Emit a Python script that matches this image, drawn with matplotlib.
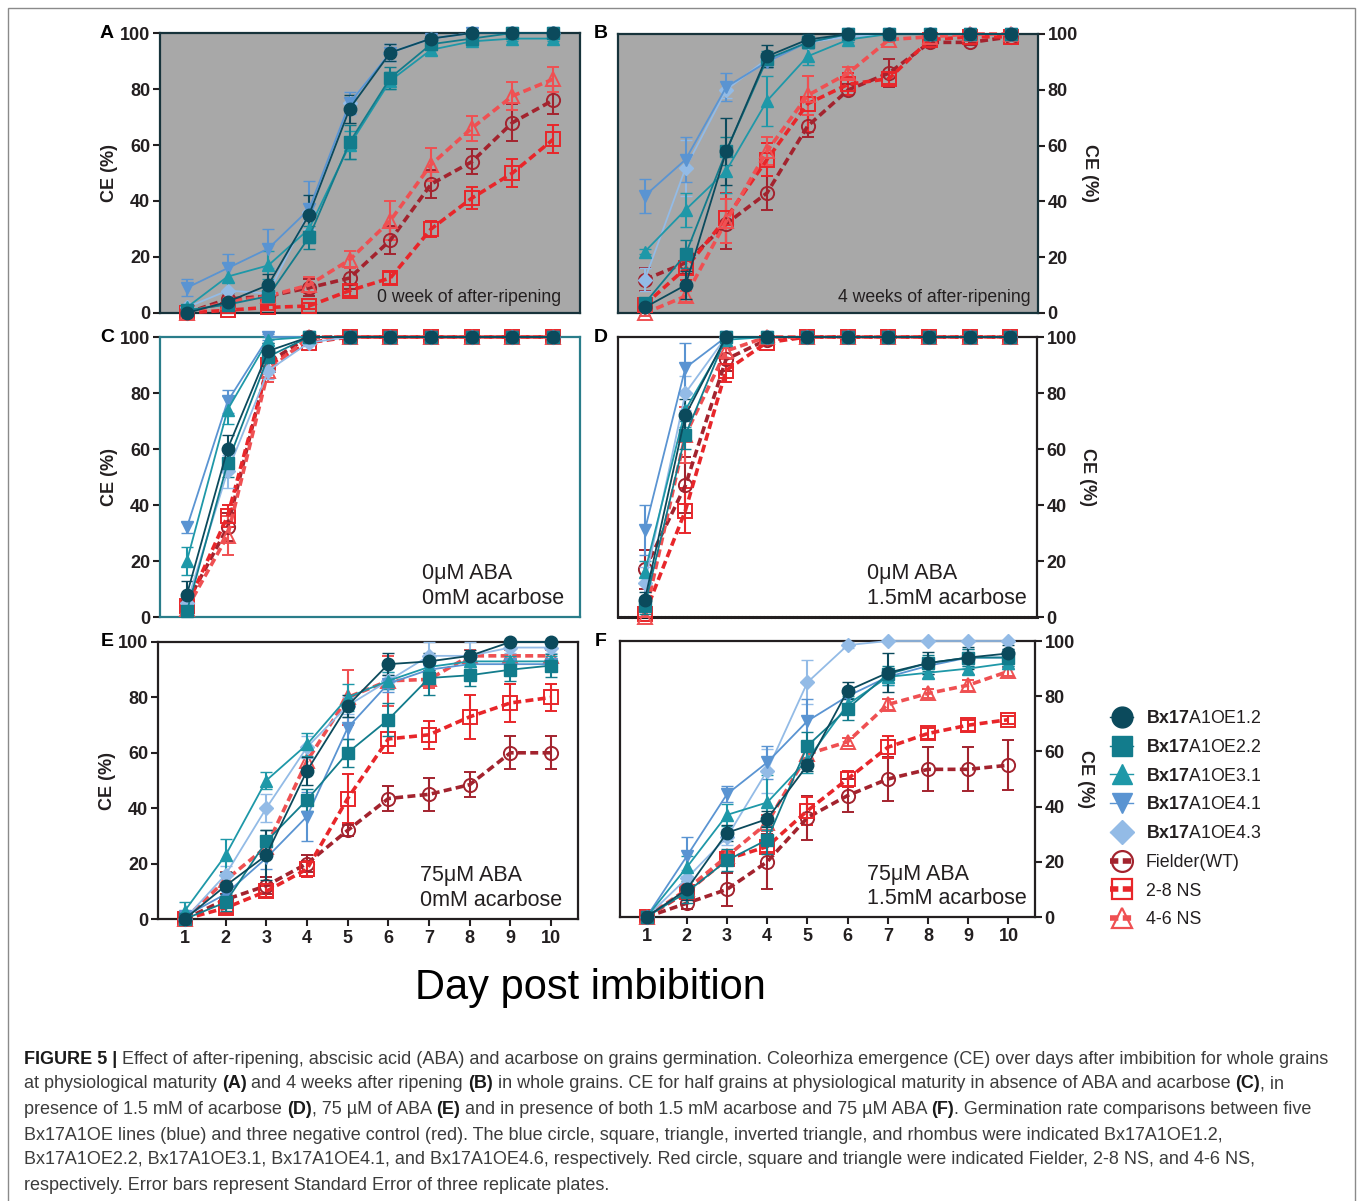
import matplotlib
matplotlib.use("Agg")
import matplotlib.pyplot as plt
from matplotlib.lines import Line2D
from matplotlib.patches import Rectangle

plt.rcParams['font.family'] = ['Liberation Sans', 'DejaVu Sans']
plt.rcParams['mathtext.fontset'] = 'custom'
plt.rcParams['mathtext.rm'] = 'Liberation Sans'
plt.rcParams['mathtext.bf'] = 'Liberation Sans:bold'

W, H = 1358, 1201
INK = '#231f20'

# x values and series
days = [1, 2, 3, 4, 5, 6, 7, 8, 9, 10]
series_labels = [r'$\mathbf{Bx17}$A1OE1.2', r'$\mathbf{Bx17}$A1OE2.2', r'$\mathbf{Bx17}$A1OE3.1',
                 r'$\mathbf{Bx17}$A1OE4.1', r'$\mathbf{Bx17}$A1OE4.3',
                 'Fielder(WT)', '2-8 NS', '4-6 NS']
series_colors = ['#0b4a5c', '#127c8c', '#1e98a8', '#5a94d2', '#93bbe6', '#a3232e', '#e8262a', '#ef5052']
series_markers = ['o', 's', '^', 'v', 'D', 'o', 's', '^']

# panel A: 0 week of after-ripening
A_mean = [[0, 4, 10, 35, 73, 93, 98, 100, 100, 100],
          [1, 3, 6, 27, 61, 84, 96, 98, 100, 100],
          [2, 13, 17, 30, 60, 83, 94, 97, 98, 98],
          [9, 16, 23, 37, 75, 93, 98, 100, 100, 100],
          [2, 8, 7, 36, 75, 93, 98, 100, 100, 100],
          [0, 5, 6, 9, 12.5, 26, 46, 54, 68, 76],
          [0, 1, 2, 2.5, 8, 12.5, 30, 41, 50, 62],
          [0, 4, 6, 10, 19, 33, 53, 66, 77.5, 83.5]]
A_err = [[0, 3, 4, 7, 5, 3, 1, 1, 0, 0],
         [1, 2, 2, 4, 6, 4, 2, 1, 0, 0],
         [1, 5, 5, 5, 5, 3, 2, 1, 1, 1],
         [3, 5, 7, 10, 4, 3, 1, 0, 0, 0],
         [1, 3, 2, 6, 4, 3, 1, 0, 0, 0],
         [0, 2, 2, 3, 4, 5, 5, 4.5, 6.5, 5],
         [0, 1, 1, 1, 2, 2, 3, 4, 5, 5],
         [0, 2, 2, 3, 3, 7, 6, 4.5, 5, 4.5]]

# panel B: 4 weeks of after-ripening
B_mean = [[2, 10, 58, 92, 98, 100, 100, 100, 100, 100],
          [3.5, 21, 58, 91, 97, 100, 100, 100, 100, 100],
          [22, 37, 51, 76, 92, 98, 100, 100, 100, 100],
          [42, 55, 81, 90, 97, 100, 100, 100, 100, 100],
          [12, 52, 80, 91, 97, 99, 100, 100, 100, 100],
          [12, 18, 32, 43, 67, 80, 86, 97, 97, 99],
          [3, 16, 34, 55, 75, 82, 84, 98, 99, 99],
          [0, 6, 33, 58, 78, 86, 98, 99, 100, 100]]
B_err = [[1, 5, 12, 4, 2, 0, 0, 0, 0, 0],
         [2, 5, 5, 3, 2, 0, 0, 0, 0, 0],
         [1, 6, 8, 9, 3, 1, 0, 0, 0, 0],
         [6, 8, 5, 2, 2, 0, 0, 0, 0, 0],
         [4, 10, 3, 2, 2, 1, 0, 0, 0, 0],
         [4, 4, 9, 6, 4, 2, 5, 1, 1, 1],
         [2, 4, 9, 6, 10, 4, 2, 1, 1, 1],
         [1, 2, 8, 5, 7, 2, 1, 1, 0, 0]]

# panel C: 0uM ABA, 0mM acarbose
C_mean = [[8, 60, 95, 100, 100, 100, 100, 100, 100, 100],
          [2, 55, 93, 100, 100, 100, 100, 100, 100, 100],
          [20, 74, 99, 100, 100, 100, 100, 100, 100, 100],
          [32, 77, 100, 100, 100, 100, 100, 100, 100, 100],
          [5, 52, 88, 98, 100, 100, 100, 100, 100, 100],
          [5, 32, 91, 100, 100, 100, 100, 100, 100, 100],
          [4, 36, 90, 98, 100, 100, 100, 100, 100, 100],
          [3, 29, 88, 100, 100, 100, 100, 100, 100, 100]]
C_err = [[5, 5, 3, 0, 0, 0, 0, 0, 0, 0],
         [1, 5, 4, 0, 0, 0, 0, 0, 0, 0],
         [5, 5, 1, 0, 0, 0, 0, 0, 0, 0],
         [2, 4, 1, 0, 0, 0, 0, 0, 0, 0],
         [3, 6, 3, 1, 0, 0, 0, 0, 0, 0],
         [3, 5, 4, 0, 0, 0, 0, 0, 0, 0],
         [2, 4, 6, 1, 0, 0, 0, 0, 0, 0],
         [2, 7, 4, 0, 0, 0, 0, 0, 0, 0]]

# panel D: 0uM ABA, 1.5mM acarbose
D_mean = [[6, 72, 100, 100, 100, 100, 100, 100, 100, 100],
          [4, 65, 100, 100, 100, 100, 100, 100, 100, 100],
          [16, 74, 99, 100, 100, 100, 100, 100, 100, 100],
          [31, 89, 100, 100, 100, 100, 100, 100, 100, 100],
          [12, 80, 100, 100, 100, 100, 100, 100, 100, 100],
          [17, 47, 92, 99, 100, 100, 100, 100, 100, 100],
          [1, 38, 88, 98, 100, 100, 100, 100, 100, 100],
          [0, 65, 95, 100, 100, 100, 100, 100, 100, 100]]
D_err = [[3, 6, 0, 0, 0, 0, 0, 0, 0, 0],
         [3, 5, 0, 0, 0, 0, 0, 0, 0, 0],
         [4, 6, 1, 0, 0, 0, 0, 0, 0, 0],
         [9, 9, 0, 0, 0, 0, 0, 0, 0, 0],
         [6, 6, 0, 0, 0, 0, 0, 0, 0, 0],
         [7, 10, 4, 1, 0, 0, 0, 0, 0, 0],
         [1, 8, 4, 1, 0, 0, 0, 0, 0, 0],
         [0, 10, 3, 0, 0, 0, 0, 0, 0, 0]]

# panel E: 75uM ABA, 0mM acarbose
E_mean = [[0, 12, 23, 53.5, 77, 92, 93, 95, 100, 100],
          [0, 6, 28, 43, 60, 72, 87, 88, 90, 91.5],
          [3, 23, 50, 63, 80, 86, 91, 93, 93, 93],
          [1, 9, 22, 37, 69, 85, 90, 92, 92, 92],
          [0, 16, 40, 62, 77, 86, 95, 95, 98, 98],
          [0, 7, 12, 20, 32, 43.5, 45, 48.5, 60, 60],
          [0, 4, 10, 18, 43.5, 65, 66.5, 73, 78, 80],
          [0, 14, 26, 57, 80, 86, 86.5, 95, 95, 95]]
E_err = [[1, 5, 9, 5, 4, 4, 3, 2, 0, 0],
         [1, 3, 4, 4, 5, 6, 6, 4, 4, 4],
         [3, 6, 3, 4, 5, 3, 3, 2, 2, 2],
         [1, 4, 4, 9, 4, 3, 3, 2, 2, 2],
         [1, 3, 5, 4, 3, 3, 5, 5, 2, 2],
         [0, 2, 3, 3, 2, 4.5, 6, 4.5, 6, 6],
         [0, 2, 2, 3, 9, 5, 5, 8, 7, 5],
         [0, 3, 3, 4, 10, 9, 3, 2, 2, 2]]

# panel F: 75uM ABA, 1.5mM acarbose
F_mean = [[0, 10, 30.5, 35.5, 55, 82, 88.5, 92, 94, 95.5],
          [0, 9, 20.5, 28, 62, 75.5, 88, 92, 94, 94],
          [0, 18, 37, 41.5, 57, 77, 87, 88.5, 90, 92],
          [0, 22, 44.5, 56, 71, 80, 87, 91, 94, 94],
          [0, 14, 29, 53, 85, 98.5, 100, 100, 100, 100],
          [0, 5, 10, 20, 36, 44, 50, 53.5, 53.5, 55],
          [0, 9, 21, 25.5, 38.5, 50, 61.5, 66.5, 69.5, 71.5],
          [0, 10, 22, 34, 59, 63.5, 77, 81, 84, 89]]
F_err = [[0, 4, 3, 3, 2, 3, 7, 4, 4, 3],
         [0, 4, 4, 5, 5, 4, 3, 3, 3, 3],
         [0, 4, 4, 10, 5, 3, 3, 2, 2, 2],
         [0, 7, 3, 6, 8, 3, 3, 3, 3, 3],
         [0, 3, 3, 8, 8, 1, 0, 0, 0, 0],
         [0, 2, 6, 10, 8, 6, 8, 8, 8, 9],
         [0, 2, 2, 2, 5, 3, 4, 2, 2, 1.5],
         [0, 2, 2, 3, 2, 1.5, 2, 1.5, 2, 1.5]]

yticks = [0, 20, 40, 60, 80, 100]

fig = plt.figure(figsize=(W / 100, H / 100), dpi=100)


def box(l, t, r, b):
    return [l / W, 1 - b / H, (r - l) / W, (b - t) / H]


# outer frame
fig.patches.append(Rectangle((8 / W, -0.01), (1355 - 8) / W, 1 - 8 / H + 0.01,
                             transform=fig.transFigure, fill=False, edgecolor='#8a8a8a', lw=1.0))

# letter, means, errs, axes box, tick side, background, frame colour, note, note x, x labels
panels = [
    ('A', A_mean, A_err, box(160, 33, 580, 313), 'left', '#a8a8a8', '#17333b', '0 week of after-ripening', 0.955, False),
    ('B', B_mean, B_err, box(618, 34, 1038, 313), 'right', '#a8a8a8', '#17333b', '4 weeks of after-ripening', 0.983, False),
    ('C', C_mean, C_err, box(160, 337, 580, 617), 'left', 'white', '#2a7d8a', '0μM ABA\n0mM acarbose', 0.962, False),
    ('D', D_mean, D_err, box(618, 337, 1037, 617), 'right', 'white', INK, '0μM ABA\n1.5mM acarbose', 0.976, False),
    ('E', E_mean, E_err, box(158, 642, 578, 919), 'left', 'white', INK, '75μM ABA\n0mM acarbose', 0.962, True),
    ('F', F_mean, F_err, box(620, 641, 1035, 917), 'right', 'white', INK, '75μM ABA\n1.5mM acarbose', 0.98, True),
]

for letter, means, errs, pos, side, bg, frame, note, nx, xlab in panels:
    ax = fig.add_axes(pos)
    ax.set_facecolor(bg)
    order = [5, 6, 7, 4, 3, 2, 1, 0]
    for i in order:
        red = i >= 5
        ax.errorbar(days, means[i], yerr=errs[i], color=series_colors[i],
                    marker=series_markers[i],
                    markersize=(7 if series_markers[i] == 'D' else 9 if not red else 9.5),
                    markerfacecolor='none' if red else series_colors[i],
                    markeredgecolor=series_colors[i], markeredgewidth=1.4 if red else 1.0,
                    linestyle=(0, (2.2, 1.2)) if red else '-', lw=2.6 if red else 1.3,
                    elinewidth=1.5, capsize=4.5, capthick=1.5, zorder=3 if red else 4,
                    clip_on=False)
    ax.set_xlim(0.34, 10.66)
    ax.set_ylim(0, 100)
    ax.set_yticks(yticks)
    for sp in ax.spines.values():
        sp.set_color(frame)
        sp.set_linewidth(1.6)
    if letter == 'D':
        ax.spines['bottom'].set_linestyle((0, (0.6, 0.6)))
        ax.spines['bottom'].set_linewidth(2.2)
    ax.tick_params(axis='y', direction='out', length=5, width=1.5, color=INK,
                   labelsize=13, labelcolor=INK, pad=2)
    if side == 'right':
        ax.yaxis.tick_right()
        ax.yaxis.set_label_position('right')
        ax.set_ylabel('CE (%)', fontsize=13, fontweight='bold', color=INK, rotation=270)
        ax.yaxis.set_label_coords(1.142, 0.5)
    else:
        ax.set_ylabel('CE (%)', fontsize=13, fontweight='bold', color=INK)
        ax.yaxis.set_label_coords(-0.10, 0.5)
    for lab in ax.get_yticklabels():
        lab.set_fontweight('bold')
    if xlab:
        ax.set_xticks(days)
        ax.tick_params(axis='x', direction='out', length=5, width=1.5, color=INK,
                       labelsize=13, labelcolor=INK, pad=3)
        for lab in ax.get_xticklabels():
            lab.set_fontweight('bold')
    else:
        ax.set_xticks([])
    if letter in ('A', 'B'):
        ax.text(nx, 0.025, note, transform=ax.transAxes, ha='right', va='bottom',
                fontsize=12.7, color=INK, zorder=6)
    else:
        ax.text(nx, 0.03, note, transform=ax.transAxes, ha='right', va='bottom',
                fontsize=15.5, color=INK, multialignment='left', linespacing=1.2, zorder=6)
    lx = 107 if side == 'left' else 601
    ly = {'A': 34, 'B': 34, 'C': 338, 'D': 338, 'E': 642, 'F': 642}[letter]
    fig.text(lx / W, 1 - ly / H, letter, fontsize=14, fontweight='bold', color='black',
             ha='center', va='center')

# legend
handles = []
for i in range(8):
    red = i >= 5
    handles.append(Line2D([0], [0], color=series_colors[i], marker=series_markers[i],
                          markersize=12 if series_markers[i] == 'D' else 15,
                          markerfacecolor='none' if red else series_colors[i],
                          markeredgecolor=series_colors[i], markeredgewidth=1.6 if red else 1.0,
                          linestyle=(0, (1.5, 0.8)) if red else '-', lw=4 if red else 1.0))
fig.legend(handles, series_labels, loc='upper left', bbox_to_anchor=(1103 / W, 1 - 703 / H),
           frameon=False, fontsize=12.8, handlelength=1.3, handletextpad=0.7,
           labelspacing=0.66, labelcolor=INK, borderaxespad=0)

fig.text(590 / W, 1 - 988 / H, 'Day post imbibition', fontsize=30, color='black',
         ha='center', va='center')

# caption with bold runs
caption = [
    [('FIGURE 5 | ', True), ('Effect of after-ripening, abscisic acid (ABA) and acarbose on grains germination. '
                             'Coleorhiza emergence (CE) over days after imbibition for whole grains', False)],
    [('at physiological maturity ', False), ('(A)', True), (' and 4 weeks after ripening ', False), ('(B)', True),
     (' in whole grains. CE for half grains at physiological maturity in absence of ABA and acarbose ', False),
     ('(C)', True), (', in', False)],
    [('presence of 1.5 mM of acarbose ', False), ('(D)', True), (', 75 µM of ABA ', False), ('(E)', True),
     (' and in presence of both 1.5 mM acarbose and 75 µM ABA ', False), ('(F)', True),
     ('. Germination rate comparisons between five', False)],
    [('Bx17A1OE lines (blue) and three negative control (red). The blue circle, square, triangle, '
      'inverted triangle, and rhombus were indicated Bx17A1OE1.2,', False)],
    [('Bx17A1OE2.2, Bx17A1OE3.1, Bx17A1OE4.1, and Bx17A1OE4.6, respectively. Red circle, square and '
      'triangle were indicated Fielder, 2-8 NS, and 4-6 NS,', False)],
    [('respectively. Error bars represent Standard Error of three replicate plates.', False)],
]
caption_y = [1059, 1084, 1109, 1135, 1160, 1185]

renderer = fig.canvas.get_renderer()


def width_px(s, size, bold):
    w = 'bold' if bold else 'normal'
    t1 = fig.text(0, 0, '|' + s + '|', fontsize=size, fontweight=w)
    t2 = fig.text(0, 0, '||', fontsize=size, fontweight=w)
    d = t1.get_window_extent(renderer).width - t2.get_window_extent(renderer).width
    t1.remove()
    t2.remove()
    return d


CAP_SIZE = 12.93
for runs, y in zip(caption, caption_y):
    x = 24
    for s, bold in runs:
        fig.text(x / W, 1 - y / H, s, fontsize=CAP_SIZE, fontweight='bold' if bold else 'normal',
                 color='#1a1a1a' if bold else '#3c3c3c', ha='left', va='center')
        x += width_px(s, CAP_SIZE, bold)

fig.savefig('out.png', dpi=100)
